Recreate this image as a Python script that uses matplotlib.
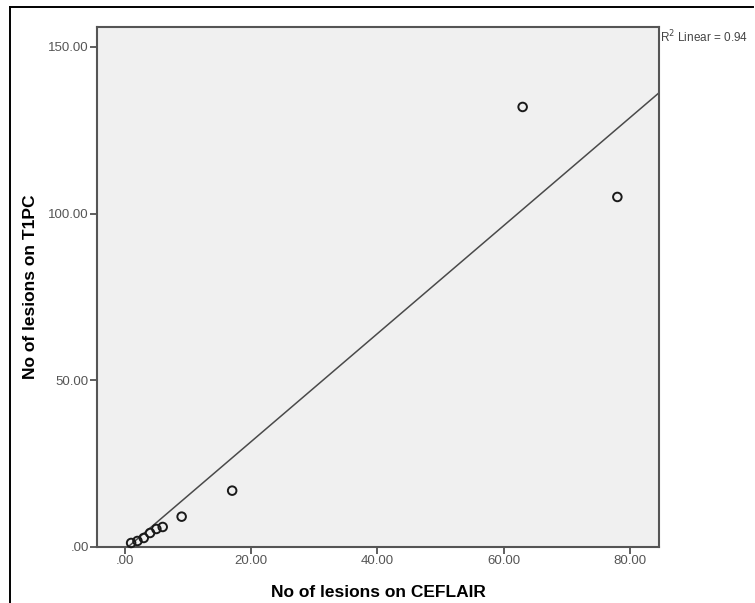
import numpy as np
import matplotlib.pyplot as plt
from matplotlib.lines import Line2D

plt.rcParams['font.family'] = ['Liberation Sans', 'DejaVu Sans']

# lesion counts
ceflair = [1, 2, 3, 4, 5, 6, 9, 17, 63, 78]
t1pc = [1.2, 1.8, 2.7, 4.2, 5.4, 6.0, 9.1, 16.9, 132, 105]

# fit line as drawn (y = slope * x + intercept), R squared from the annotation
fit_slope = 1.62
fit_intercept = -0.8
r_squared = 0.94

x_ticks = [0, 20, 40, 60, 80]
x_ticklabels = ['.00', '20.00', '40.00', '60.00', '80.00']
y_ticks = [0, 50, 100, 150]
y_ticklabels = ['.00', '50.00', '100.00', '150.00']

fig = plt.figure(figsize=(7.55, 6.03), dpi=100)
ax = fig.add_axes([0.1285, 0.0929, 0.7444, 0.8624])
ax.set_facecolor('#f0f0f0')

xlim = (-4.4, 84.6)
ax.set_xlim(*xlim)
ax.set_ylim(0, 156)

xs = np.array(xlim)
ax.plot(xs, fit_slope * xs + fit_intercept, color='#4a4a4a', lw=1.1, zorder=2)
ax.scatter(ceflair, t1pc, s=38, facecolors='none', edgecolors='#1a1a1a',
           linewidths=1.4, zorder=3, clip_on=False)

ax.set_xticks(x_ticks)
ax.set_xticklabels(x_ticklabels)
ax.set_yticks(y_ticks)
ax.set_yticklabels(y_ticklabels)
ax.tick_params(direction='out', length=5, width=1.2, color='#444444',
               labelcolor='#555555', labelsize=9.5, pad=1)
for s in ax.spines.values():
    s.set_color('#555555')
    s.set_linewidth(1.5)

ax.set_xlabel('No of lesions on CEFLAIR', fontsize=12.5, fontweight='bold', labelpad=13)
ax.set_ylabel('No of lesions on T1PC', fontsize=12.5, fontweight='bold', labelpad=7)

fig.text(0.874, 0.938, r'R$^2$ Linear = %.2f' % r_squared, fontsize=8.5,
         color='#444444', ha='left', va='center')

# outer frame (left and top edges only)
fig.add_artist(Line2D([0.0139, 0.0139], [0.0, 0.9884], color='black', lw=1.4,
                      transform=fig.transFigure))
fig.add_artist(Line2D([0.0139, 0.997], [0.9884, 0.9884], color='black', lw=1.4,
                      transform=fig.transFigure))

fig.savefig('out.png', dpi=100)
